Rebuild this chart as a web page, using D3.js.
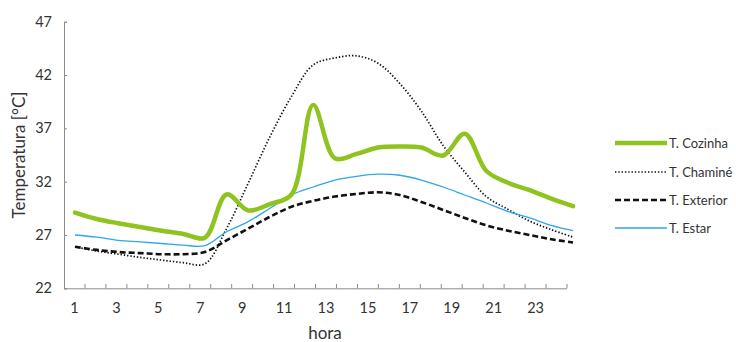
<!DOCTYPE html>
<html><head><meta charset="utf-8">
<script src="https://cdn.jsdelivr.net/npm/d3@7"></script>
<style>
body{margin:0;background:#fff;}
text{font-family:Lato,"Open Sans",sans-serif;fill:#333;}
</style></head>
<body><svg id="c" width="736" height="342"></svg>
<script>
const hours = d3.range(1,25);
const xTickLabels = [1,3,5,7,9,11,13,15,17,19,21,23];
const yTicks = [22,27,32,37,42,47];
const seriesNames = ["T. Cozinha","T. Chaminé","T. Exterior","T. Estar"];
const cozinha = [29.1,28.5,28.1,27.75,27.4,27.1,26.75,30.8,29.3,29.9,30.8,39.2,34.2,34.6,35.2,35.3,35.2,34.45,36.5,33.0,31.9,31.2,30.4,29.7];
const chamine = [25.9,25.5,25.2,24.9,24.65,24.4,24.3,27.6,31.85,36.2,40.0,42.95,43.6,43.8,43.1,41.2,38.6,35.4,32.9,30.6,29.4,28.3,27.5,26.8];
const exterior = [25.9,25.6,25.4,25.3,25.2,25.2,25.4,26.5,27.6,28.7,29.65,30.2,30.6,30.85,31.0,30.75,30.1,29.35,28.6,27.9,27.4,27.0,26.6,26.3];
const estar = [27.0,26.8,26.5,26.35,26.2,26.05,26.0,27.3,28.25,29.5,30.75,31.5,32.15,32.5,32.7,32.6,32.15,31.5,30.75,30.0,29.2,28.6,27.9,27.4];

const svg = d3.select("#c");
const axisX = d3.scaleBand().domain(hours).range([64,567]);
const lineX = d3.scalePoint().domain(hours).range([75,573]);
const y = d3.scaleLinear().domain([22,47]).range([288.3,21.7]);
const axisColor = "#8c8c8c";
const fontFam = "Lato,'Open Sans',sans-serif";

// y axis
const ya = svg.append("g").attr("transform","translate(64,0)")
  .call(d3.axisLeft(y).tickValues(yTicks).tickSize(-3).tickPadding(12).tickFormat(d3.format("d")));
ya.select(".domain").attr("stroke",axisColor);
ya.selectAll(".tick line").attr("stroke",axisColor);
ya.selectAll("text").attr("font-size",14.5).attr("fill","#333").style("font-family",fontFam);

// x axis
const xa = svg.append("g").attr("transform","translate(0,288.3)")
  .call(d3.axisBottom(axisX).tickValues(xTickLabels).tickSize(0).tickPadding(14));
xa.select(".domain").attr("stroke",axisColor).attr("d","M64.5,0.5H567");
xa.selectAll("text").attr("font-size",14.5).attr("fill","#333").style("font-family",fontFam);
svg.append("g").selectAll("line").data(hours).join("line")
  .attr("x1",d=>axisX(d)+axisX.bandwidth()).attr("x2",d=>axisX(d)+axisX.bandwidth())
  .attr("y1",288.3).attr("y2",284).attr("stroke",axisColor);

// titles
svg.append("text").attr("x",325).attr("y",339).attr("text-anchor","middle").attr("font-size",17).text("hora");
svg.append("text").attr("transform","translate(25,155) rotate(-90)").attr("text-anchor","middle").attr("font-size",17).text("Temperatura [°C]");

const styles = [
  {data:cozinha, stroke:"#8fc31f", w:4.5, dash:null},
  {data:chamine, stroke:"#111", w:1.7, dash:"1.4,1.9"},
  {data:exterior, stroke:"#111", w:2.6, dash:"6,3"},
  {data:estar, stroke:"#2ea6ea", w:1.3, dash:null}
];
const line = d3.line().x((d,i)=>lineX(hours[i])).y(d=>y(d)).curve(d3.curveCatmullRom.alpha(0.5));
[1,2,3,0].forEach(k=>{
  const s = styles[k];
  svg.append("path").attr("d",line(s.data)).attr("fill","none").attr("stroke",s.stroke)
    .attr("stroke-width",s.w).attr("stroke-dasharray",s.dash).attr("stroke-linecap",k===0?"round":"butt");
});

// legend
const legY = [143,172,200,228];
const lg = svg.append("g");
seriesNames.forEach((n,i)=>{
  const s = styles[i];
  lg.append("line").attr("x1",615).attr("x2",667).attr("y1",legY[i]).attr("y2",legY[i])
    .attr("stroke",s.stroke).attr("stroke-width",s.w).attr("stroke-dasharray",s.dash);
  lg.append("text").attr("x",669).attr("y",legY[i]+4.5).attr("font-size",13).text(n);
});
</script></body></html>
